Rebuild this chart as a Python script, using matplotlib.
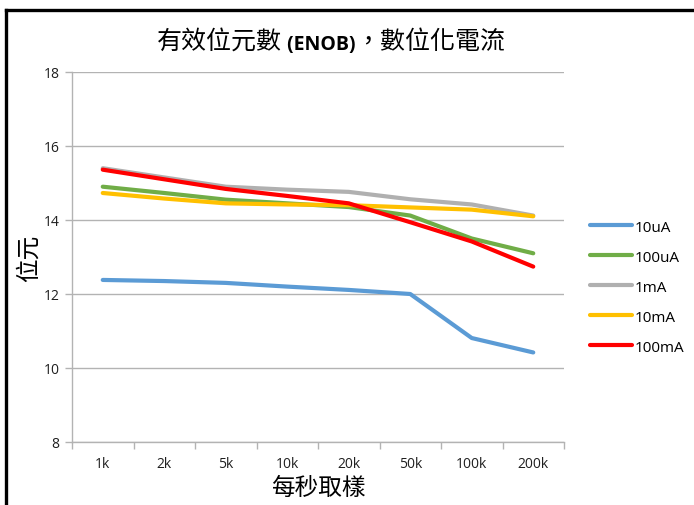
import matplotlib
matplotlib.use("Agg")
import matplotlib.pyplot as plt
from matplotlib.lines import Line2D
import numpy as np

# Sample rates (categories) and ENOB per digitizing current
rates = ["1k", "2k", "5k", "10k", "20k", "50k", "100k", "200k"]
enob_10uA = [12.38, 12.35, 12.30, 12.20, 12.11, 12.00, 10.81, 10.42]
enob_100uA = [14.90, 14.73, 14.55, 14.45, 14.35, 14.12, 13.50, 13.10]
enob_1mA = [15.40, 15.15, 14.90, 14.82, 14.76, 14.56, 14.42, 14.12]
enob_10mA = [14.73, 14.58, 14.45, 14.42, 14.40, 14.34, 14.28, 14.10]
enob_100mA = [15.36, 15.10, 14.84, 14.65, 14.45, 13.94, 13.42, 12.74]
series_labels = ["10uA", "100uA", "1mA", "10mA", "100mA"]
series_colors = ["#5b9bd5", "#70ad47", "#b0b0b0", "#ffc000", "#ff0000"]
y_ticks = [8, 10, 12, 14, 16, 18]

cjk = ["Noto Sans CJK TC", "DejaVu Sans"]
latin = ["Open Sans", "DejaVu Sans"]
tick_color = "#1f1f1f"
grid_color = "#b3b3b3"

fig = plt.figure(figsize=(6.94, 5.06), dpi=100)
ax = fig.add_axes([72 / 694, 63 / 506, 492 / 694, 370 / 506])

x = np.arange(len(rates))
all_series = [enob_10uA, enob_100uA, enob_1mA, enob_10mA, enob_100mA]
for vals, lab, col in zip(all_series, series_labels, series_colors):
    ax.plot(x, vals, color=col, lw=3.0, label=lab, solid_capstyle="round",
            solid_joinstyle="round")

ax.set_xlim(-0.5, len(rates) - 0.5)
ax.set_ylim(8, 18)
ax.set_yticks(y_ticks)
ax.set_yticklabels([str(v) for v in y_ticks], family=latin, fontsize=10,
                   color=tick_color)
ax.set_xticks(x)
ax.set_xticklabels(rates, family=latin, fontsize=10, color=tick_color)
ax.set_xticks(np.arange(-0.5, len(rates)), minor=True)
ax.tick_params(axis="x", which="major", length=0, pad=10)
ax.tick_params(axis="x", which="minor", length=5, color=grid_color, width=1)
ax.tick_params(axis="y", which="major", length=5, color=grid_color, width=1,
               pad=4)
ax.grid(axis="y", color=grid_color, lw=1)
ax.set_axisbelow(True)
for s in ("top", "right"):
    ax.spines[s].set_visible(False)
for s in ("left", "bottom"):
    ax.spines[s].set_color(grid_color)
    ax.spines[s].set_linewidth(1)

ax.set_ylabel("位元", family=cjk, fontsize=17, fontweight="light", labelpad=2)
ax.set_xlabel("每秒取樣", family=cjk, fontsize=17, fontweight="light",
              labelpad=4)

leg = fig.legend(loc="upper left", bbox_to_anchor=(576 / 694, 1 - 207 / 506),
                 frameon=False, prop={"family": latin, "size": 11},
                 handlelength=2.75, handletextpad=0.2, labelspacing=0.98)

# Title assembled from CJK and bold Latin pieces
t1 = fig.text(157 / 694, 1 - 49 / 506, "有效位元數", family=cjk, fontsize=18,
              fontweight="light", va="baseline", ha="left")
t2 = ax.annotate(" (ENOB)", xy=(1, 0), xycoords=t1, family=latin,
                 fontsize=14, fontweight="bold", va="bottom", ha="left",
                 annotation_clip=False)
t3 = ax.annotate("，數位化電流", xy=(1, 0), xycoords=t2, family=cjk,
                 fontsize=18, fontweight="light", va="bottom", ha="left",
                 annotation_clip=False)

# Outer frame lines
fig.add_artist(Line2D([6 / 694, 6 / 694], [0, 1 - 10.5 / 506],
                      transform=fig.transFigure, color="black", lw=2.4))
fig.add_artist(Line2D([6 / 694, 1], [1 - 10.5 / 506, 1 - 10.5 / 506],
                      transform=fig.transFigure, color="black", lw=2.4,
                      solid_capstyle="projecting"))

fig.savefig("out.png", dpi=100)
